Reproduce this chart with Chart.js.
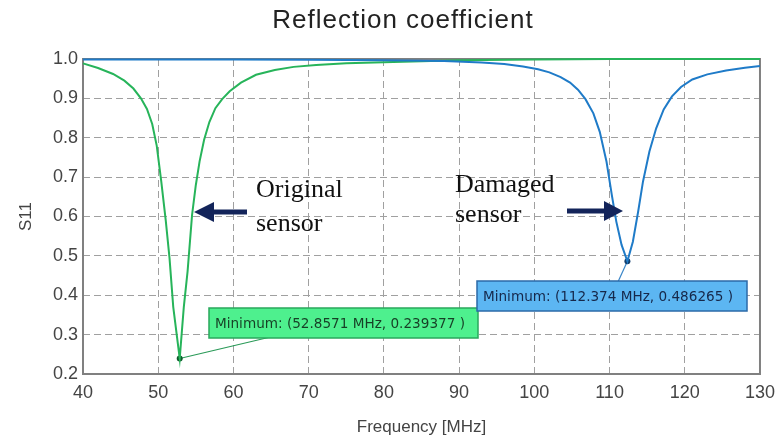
<!DOCTYPE html>
<html>
<head>
<meta charset="utf-8">
<title>Reflection coefficient</title>
<script src="https://cdn.jsdelivr.net/npm/chart.js@4.4.0/dist/chart.umd.min.js"></script>
<style>
  html, body { margin: 0; padding: 0; background: #fff; }
  #wrap { width: 783px; height: 436px; }
</style>
</head>
<body>
<div id="wrap"><canvas id="s11Chart" width="783" height="436"></canvas></div>
<script>
// values: frequency [MHz] and |S11|
const origFreq = [40, 42, 44, 45.5, 46.7, 47.7, 48.5, 49.2, 49.8, 50.4, 51, 51.5, 52, 52.8571, 53.4, 53.9, 54.5, 55, 55.5, 56.1, 56.8, 57.6, 58.5, 59.5, 61, 63, 65.5, 68, 71, 75, 80, 90, 100, 110, 120, 130];
const origS11  = [0.989, 0.977, 0.962, 0.945, 0.925, 0.90, 0.873, 0.835, 0.78, 0.69, 0.59, 0.495, 0.37, 0.239377, 0.37, 0.46, 0.604, 0.68, 0.74, 0.795, 0.84, 0.875, 0.898, 0.918, 0.94, 0.96, 0.972, 0.98, 0.985, 0.989, 0.992, 0.997, 0.999, 1.0, 1.0, 1.0];

const dmgFreq = [40, 50, 60, 70, 80, 88, 93, 96, 98.5, 100.5, 102, 103.5, 104.75, 105.8, 106.8, 107.85, 108.7, 109.6, 110.3, 110.9, 111.6, 112.374, 113.1, 113.8, 114.45, 115.3, 116.2, 117.2, 118.3, 119.5, 121, 123, 125.5, 128, 130];
const dmgS11  = [0.999, 0.999, 0.999, 0.998, 0.997, 0.995, 0.991, 0.987, 0.981, 0.974, 0.966, 0.954, 0.94, 0.922, 0.898, 0.862, 0.815, 0.739, 0.655, 0.587, 0.528, 0.486265, 0.536, 0.612, 0.689, 0.765, 0.824, 0.872, 0.905, 0.929, 0.948, 0.961, 0.971, 0.978, 0.982];

const origMin = [52.8571, 0.239377];
const dmgMin = [112.374, 0.486265];

const xTicks = [40, 50, 60, 70, 80, 90, 100, 110, 120, 130];
const yTicks = [0.2, 0.3, 0.4, 0.5, 0.6, 0.7, 0.8, 0.9, 1.0];

function toPoints(xs, ys) {
    return xs.map((x, i) => ({x: x, y: ys[i]}));
}

function drawArrow(ctx, x0, x1, y, head) {
    const dir = Math.sign(x1 - x0);
    ctx.beginPath();
    ctx.moveTo(x0, y);
    ctx.lineTo(x1 - dir * head, y);
    ctx.stroke();
    ctx.beginPath();
    ctx.moveTo(x1, y);
    ctx.lineTo(x1 - dir * head, y - 10);
    ctx.lineTo(x1 - dir * head, y + 10);
    ctx.closePath();
    ctx.fill();
}

function drawBox(ctx, x, y, w, h, fill, border, color, text) {
    ctx.fillStyle = fill;
    ctx.fillRect(x, y, w, h);
    ctx.strokeStyle = border;
    ctx.lineWidth = 1.5;
    ctx.strokeRect(x, y, w, h);
    ctx.fillStyle = color;
    ctx.font = '13.6px "DejaVu Sans"';
    ctx.textAlign = 'left';
    ctx.textBaseline = 'middle';
    ctx.fillText(text, x + 6, y + h / 2 + 1);
}

const overlay = {
    id: 'overlay',
    beforeDatasetsDraw(chart) {
        const {ctx, chartArea: a, scales} = chart;
        ctx.save();
        ctx.strokeStyle = '#808080';
        ctx.lineWidth = 2;
        ctx.strokeRect(a.left, a.top, a.right - a.left, a.bottom - a.top);

        // leader lines from the minima to their labels
        ctx.lineWidth = 1.2;
        ctx.strokeStyle = '#2a9a58';
        ctx.beginPath();
        ctx.moveTo(scales.x.getPixelForValue(origMin[0]), scales.y.getPixelForValue(origMin[1]));
        ctx.lineTo(300, 330);
        ctx.stroke();
        ctx.strokeStyle = '#3a86c8';
        ctx.beginPath();
        ctx.moveTo(scales.x.getPixelForValue(dmgMin[0]), scales.y.getPixelForValue(dmgMin[1]));
        ctx.lineTo(612, 295);
        ctx.stroke();
        ctx.restore();
    },
    afterDatasetsDraw(chart) {
        const ctx = chart.ctx;
        ctx.save();
        drawBox(ctx, 209, 308, 269, 30, '#4ef08e', '#2aa85c', '#173f26',
            'Minimum: (' + origMin[0] + ' MHz, ' + origMin[1] + ' )');
        drawBox(ctx, 477, 281, 270, 30, '#5cb6f2', '#2b6aa8', '#16284a',
            'Minimum: (' + dmgMin[0] + ' MHz, ' + dmgMin[1] + ' )');

        ctx.strokeStyle = '#13245a';
        ctx.fillStyle = '#13245a';
        ctx.lineWidth = 5;
        drawArrow(ctx, 247, 194, 212, 20);
        drawArrow(ctx, 567, 623, 211, 19);

        ctx.fillStyle = '#111';
        ctx.font = '26px "Liberation Serif"';
        ctx.textAlign = 'left';
        ctx.textBaseline = 'alphabetic';
        ctx.fillText('Original', 256, 197);
        ctx.fillText('sensor', 256, 231);
        ctx.fillText('Damaged', 455, 192);
        ctx.fillText('sensor', 455, 222);

        ctx.fillStyle = '#222';
        ctx.font = '26px "Liberation Sans"';
        ctx.letterSpacing = '1px';
        ctx.textAlign = 'center';
        ctx.textBaseline = 'middle';
        ctx.fillText('Reflection coefficient', 403, 21);
        ctx.restore();
    }
};

const tickFont = {family: '"Liberation Sans", Arial, sans-serif', size: 18};

new Chart(document.getElementById('s11Chart').getContext('2d'), {
    type: 'line',
    data: {
        datasets: [{
            label: 'Damaged sensor',
            data: toPoints(dmgFreq, dmgS11),
            borderColor: '#1f7bc8',
            borderWidth: 2,
            pointRadius: 0,
            tension: 0,
            clip: 4
        }, {
            label: 'Original sensor',
            data: toPoints(origFreq, origS11),
            borderColor: '#27b45a',
            borderWidth: 2,
            pointRadius: 0,
            tension: 0,
            clip: 4
        }, {
            label: 'Minimum (original)',
            data: [{x: origMin[0], y: origMin[1]}],
            showLine: false,
            pointRadius: 3,
            pointBackgroundColor: '#0f5a2c',
            pointBorderWidth: 0
        }, {
            label: 'Minimum (damaged)',
            data: [{x: dmgMin[0], y: dmgMin[1]}],
            showLine: false,
            pointRadius: 3,
            pointBackgroundColor: '#123f6e',
            pointBorderWidth: 0
        }]
    },
    options: {
        responsive: false,
        animation: false,
        devicePixelRatio: 1,
        layout: { padding: {top: 59, right: 19, left: 0, bottom: 0} },
        plugins: {
            legend: { display: false },
            tooltip: { enabled: false },
            title: { display: false }
        },
        scales: {
            x: {
                type: 'linear',
                min: 40,
                max: 130,
                afterBuildTicks: s => { s.ticks = xTicks.map(v => ({value: v})); },
                afterFit: s => { s.height = 62; },
                grid: { color: '#a0a0a0', drawTicks: false },
                border: { display: false, dash: [7, 4] },
                ticks: { font: tickFont, color: '#444', padding: 8, maxRotation: 0 },
                title: {
                    display: true,
                    text: 'Frequency [MHz]',
                    color: '#444',
                    font: {family: '"Liberation Sans", Arial, sans-serif', size: 17, lineHeight: 1},
                    padding: {top: 0, bottom: 0}
                }
            },
            y: {
                min: 0.2,
                max: 1.0,
                afterBuildTicks: s => { s.ticks = yTicks.map(v => ({value: v})); },
                afterFit: s => { s.width = 83; },
                grid: { color: '#a0a0a0', drawTicks: false },
                border: { display: false, dash: [7, 4] },
                ticks: { font: tickFont, color: '#444', padding: 5, callback: v => v.toFixed(1) },
                title: {
                    display: true,
                    text: 'S11',
                    color: '#444',
                    font: {family: '"Liberation Sans", Arial, sans-serif', size: 17, lineHeight: 1},
                    padding: {top: 18, bottom: 0}
                }
            }
        }
    },
    plugins: [overlay]
});
</script>
</body>
</html>
